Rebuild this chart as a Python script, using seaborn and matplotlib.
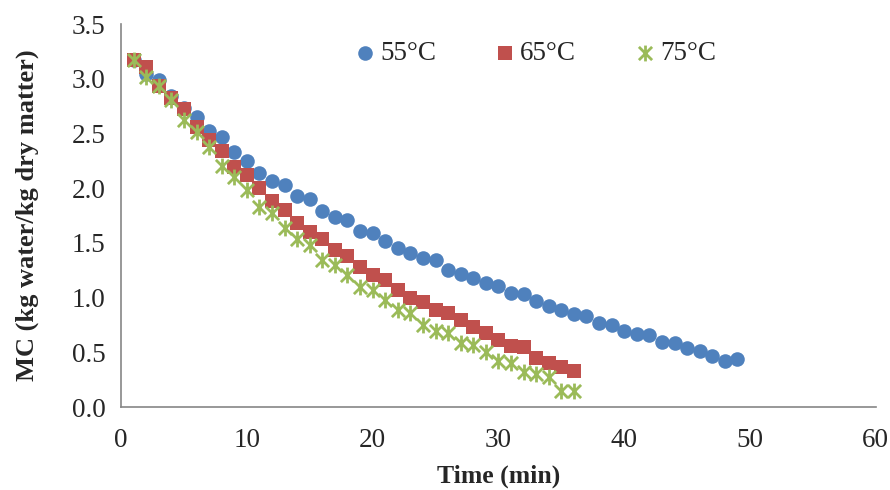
import numpy as np
import matplotlib
matplotlib.use("Agg")
import matplotlib.pyplot as plt
from matplotlib.path import Path
import seaborn as sns

# drying time (min)
time_55 = list(range(1, 50))
time_65 = list(range(1, 37))
time_75 = list(range(1, 37))

# moisture content (kg water/kg dry matter)
mc_55 = [3.17, 3.04, 2.99, 2.84, 2.73, 2.65, 2.52, 2.47, 2.33, 2.25,
         2.14, 2.07, 2.03, 1.93, 1.90, 1.79, 1.74, 1.71, 1.61, 1.59,
         1.52, 1.45, 1.41, 1.36, 1.34, 1.25, 1.22, 1.18, 1.13, 1.11,
         1.04, 1.03, 0.97, 0.92, 0.89, 0.85, 0.83, 0.77, 0.75, 0.70,
         0.67, 0.66, 0.60, 0.59, 0.54, 0.51, 0.47, 0.42, 0.44]
mc_65 = [3.17, 3.11, 2.93, 2.82, 2.72, 2.56, 2.44, 2.34, 2.19, 2.12,
         2.00, 1.88, 1.80, 1.68, 1.60, 1.54, 1.44, 1.38, 1.28, 1.21,
         1.16, 1.07, 1.00, 0.96, 0.89, 0.86, 0.80, 0.73, 0.68, 0.61,
         0.56, 0.55, 0.45, 0.40, 0.37, 0.33]
mc_75 = [3.17, 3.02, 2.93, 2.81, 2.62, 2.51, 2.38, 2.20, 2.10, 1.98,
         1.83, 1.77, 1.64, 1.54, 1.48, 1.34, 1.30, 1.21, 1.10, 1.07,
         0.98, 0.89, 0.86, 0.75, 0.70, 0.68, 0.59, 0.57, 0.50, 0.42,
         0.40, 0.32, 0.30, 0.28, 0.15, 0.15]

labels = ["55°C", "65°C", "75°C"]
colors = ["#4F81BD", "#C0504D", "#9BBB59"]

sns.set_style("white")
plt.rcParams["font.family"] = ["Liberation Serif", "DejaVu Serif"]

# Excel-like star marker: an X with a vertical stroke
star = Path([(-1, -1), (1, 1), (-1, 1), (1, -1), (0, -1.2), (0, 1.2)],
            [Path.MOVETO, Path.LINETO, Path.MOVETO, Path.LINETO,
             Path.MOVETO, Path.LINETO])

fig, ax = plt.subplots(figsize=(8.9, 4.9), dpi=100)
fig.subplots_adjust(left=0.136, right=0.984, bottom=0.169, top=0.951)

sns.scatterplot(x=time_55, y=mc_55, ax=ax, marker="o", s=110,
                color=colors[0], linewidth=0, label=labels[0], zorder=3)
sns.scatterplot(x=time_65, y=mc_65, ax=ax, marker="s", s=105,
                color=colors[1], linewidth=0, label=labels[1], zorder=4)
sns.scatterplot(x=time_75, y=mc_75, ax=ax, marker=star, s=130,
                color=colors[2], edgecolor=colors[2], linewidth=2.0,
                label=labels[2], zorder=5)

ax.set_xlim(0, 60)
ax.set_ylim(0, 3.5)
ax.set_xticks(np.arange(0, 61, 10))
ax.set_yticks(np.arange(0, 3.51, 0.5))
ax.set_yticklabels([f"{v:.1f}" for v in np.arange(0, 3.51, 0.5)])

ax.set_xlabel("Time (min)", fontsize=18.5, fontweight="bold", labelpad=8)
ax.set_ylabel("MC (kg water/kg dry matter)", fontsize=19, fontweight="bold", labelpad=24)

for side in ["top", "right"]:
    ax.spines[side].set_visible(False)
for side in ["left", "bottom"]:
    ax.spines[side].set_color("#868686")
    ax.spines[side].set_linewidth(1.2)
ax.tick_params(axis="both", which="major", labelsize=19.5, direction="out",
               length=6, width=1.2, color="#868686", pad=5)
ax.tick_params(axis="x", pad=9)

ax.legend(ncol=3, frameon=False, loc="upper center",
          bbox_to_anchor=(0.55, 1.02), fontsize=19.5, handlelength=0.7,
          handletextpad=0.2, columnspacing=2.2)

fig.savefig("out.png", dpi=100)
